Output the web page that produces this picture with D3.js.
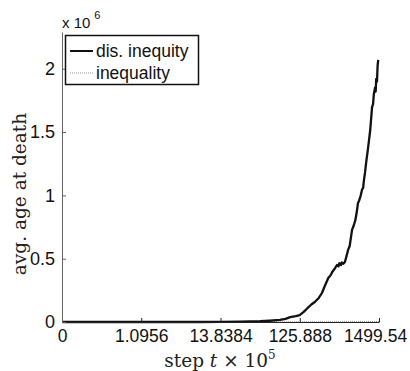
<!DOCTYPE html>
<html><head><meta charset="utf-8">
<script src="https://cdn.jsdelivr.net/npm/d3@7"></script>
<style>body{margin:0;background:#fff}svg{display:block}</style>
</head><body>
<svg id="c" width="410" height="371"></svg>
<script>
const xTickPos = [0, 1, 2, 3, 4];
const xTickLabels = ["0", "1.0956", "13.8384", "125.888", "1499.54"];
const yTicks = [0, 0.5, 1, 1.5, 2];
const yTickLabels = ["0", "0.5", "1", "1.5", "2"];
const seriesNames = ["dis. inequity", "inequality"];
// x in tick-index units, y in units of 10^6
const inequityX = [0, 1.0, 1.74, 2.0, 2.25, 2.5, 2.62, 2.75, 2.82, 2.88, 2.95, 3.0, 3.05, 3.1, 3.15, 3.19, 3.24, 3.28, 3.32, 3.36, 3.39, 3.41, 3.44, 3.47, 3.49, 3.5, 3.52, 3.53, 3.55, 3.57, 3.59, 3.61, 3.63, 3.66, 3.68, 3.7, 3.72, 3.735, 3.75, 3.77, 3.785, 3.8, 3.81, 3.823, 3.84, 3.855, 3.874, 3.89, 3.9, 3.912, 3.925, 3.935, 3.95, 3.958, 3.965, 3.975, 3.982, 3.99];
const inequityY = [0, 0, 0, 0.001, 0.002, 0.006, 0.01, 0.016, 0.025, 0.039, 0.047, 0.055, 0.08, 0.111, 0.14, 0.158, 0.19, 0.229, 0.29, 0.347, 0.37, 0.395, 0.42, 0.45, 0.44, 0.465, 0.45, 0.47, 0.46, 0.474, 0.52, 0.569, 0.6, 0.727, 0.76, 0.8, 0.87, 0.94, 0.96, 1.0, 1.043, 1.06, 1.12, 1.177, 1.27, 1.34, 1.437, 1.52, 1.6, 1.695, 1.72, 1.8, 1.85, 1.82, 1.92, 1.9, 2.02, 2.07];
const inequalityX = [0, 1, 2, 2.5, 3, 3.5, 4];
const inequalityY = [0, 0, 0, 0.001, 0.002, 0.003, 0.004];

const svg = d3.select("#c");
const m = {l: 62, r: 379, t: 32, b: 322};
const x = d3.scaleLinear().domain([0, 4]).range([m.l, m.r]);
const y = d3.scaleLinear().domain([0, 2.29]).range([m.b, m.t]);

const sans = "'Liberation Sans', Arial, sans-serif";
const serif = "'DejaVu Serif', 'Liberation Serif', serif";

// data lines
const line = d3.line().x(d => x(d[0])).y(d => y(d[1]));
svg.append("path").datum(inequalityX.map((v, i) => [v, inequalityY[i]]))
  .attr("d", line).attr("fill", "none").attr("stroke", "#999").attr("stroke-width", 1)
  .attr("stroke-dasharray", "1,1");
svg.append("path").datum(inequityX.map((v, i) => [v, inequityY[i]]))
  .attr("d", line).attr("fill", "none").attr("stroke", "#111").attr("stroke-width", 2.3)
  .attr("stroke-linejoin", "round");

// axes
const xAxis = d3.axisBottom(x).tickValues(xTickPos).tickFormat((d, i) => xTickLabels[i]).tickSizeInner(-4).tickSizeOuter(0).tickPadding(8);
const gx = svg.append("g").attr("transform", `translate(0,${m.b})`).call(xAxis);
gx.selectAll("text").attr("font-family", sans).attr("font-size", 17.5).attr("fill", "#111");
gx.selectAll(".tick text").filter((d, i) => i === 4).attr("dx", -4);
gx.select(".domain").attr("stroke", "#222");
gx.selectAll(".tick line").attr("stroke", "#222");

const yAxis = d3.axisLeft(y).tickValues(yTicks).tickFormat((d, i) => yTickLabels[i]).tickSizeInner(-4).tickSizeOuter(0).tickPadding(7);
const gy = svg.append("g").attr("transform", `translate(${m.l},0)`).call(yAxis);
gy.selectAll("text").attr("font-family", sans).attr("font-size", 18).attr("fill", "#111");
gy.select(".domain").attr("stroke", "#666");
gy.selectAll(".tick line").attr("stroke", "#666");

// exponent
const ex = svg.append("text").attr("x", 62).attr("y", 28).attr("font-family", sans).attr("font-size", 15).attr("fill", "#111");
ex.append("tspan").text("x 10");
ex.append("tspan").attr("dx", 4).attr("dy", -9).attr("font-size", 11).text("6");

// axis labels
svg.append("text").attr("transform", "translate(26,194) rotate(-90)").attr("text-anchor", "middle")
  .attr("font-family", serif).attr("font-size", 18.5).attr("fill", "#222").text("avg. age at death");
const xl = svg.append("text").attr("x", 220).attr("y", 367).attr("text-anchor", "middle")
  .attr("font-family", serif).attr("font-size", 18.5).attr("fill", "#222");
xl.append("tspan").text("step ");
xl.append("tspan").attr("font-style", "italic").text("t");
xl.append("tspan").text(" × 10");
xl.append("tspan").attr("dy", -8).attr("font-size", 12).text("5");

// legend
const lg = svg.append("g");
lg.append("rect").attr("x", 65.5).attr("y", 35.5).attr("width", 133).attr("height", 49)
  .attr("fill", "#fff").attr("stroke", "#111").attr("stroke-width", 1.5);
const styles = [{s: "#111", w: 2, d: null}, {s: "#999", w: 1, d: "1,1"}];
seriesNames.forEach((n, i) => {
  const cy = 51 + i * 22;
  lg.append("line").attr("x1", 70).attr("x2", 93).attr("y1", cy).attr("y2", cy)
    .attr("stroke", styles[i].s).attr("stroke-width", styles[i].w).attr("stroke-dasharray", styles[i].d);
  lg.append("text").attr("x", 96).attr("y", cy + 6).attr("font-family", sans).attr("font-size", 17.5)
    .attr("fill", "#111").text(n);
});
</script>
</body></html>
